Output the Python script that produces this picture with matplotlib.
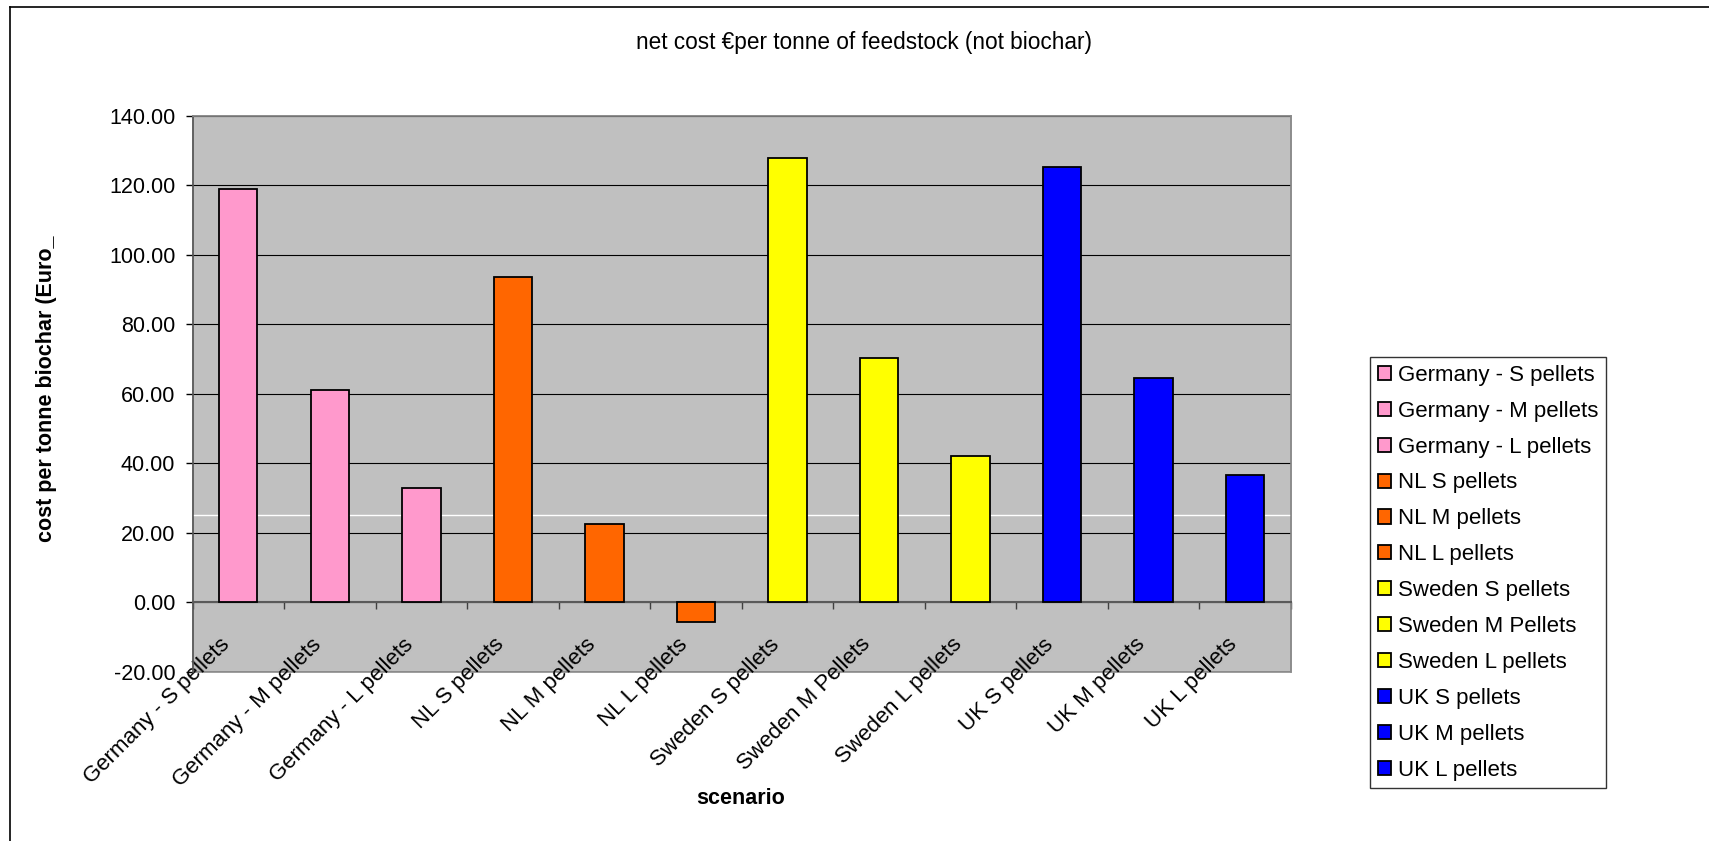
import matplotlib
matplotlib.use("Agg")
import matplotlib.pyplot as plt
import matplotlib.transforms as mtransforms
from matplotlib.lines import Line2D
import numpy as np

plt.rcParams['font.family'] = ['Liberation Sans', 'DejaVu Sans']

# data
scenarios = ["Germany - S pellets", "Germany - M pellets", "Germany - L pellets",
             "NL S pellets", "NL M pellets", "NL L pellets",
             "Sweden S pellets", "Sweden M Pellets", "Sweden L pellets",
             "UK S pellets", "UK M pellets", "UK L pellets"]
net_cost = [119.0, 61.0, 32.9, 93.5, 22.4, -5.6, 128.0, 70.4, 42.1, 125.4, 64.4, 36.5]
bar_colors = ["#FF99CC"] * 3 + ["#FF6600"] * 3 + ["#FFFF00"] * 3 + ["#0000FF"] * 3
white_line_value = 25.0
y_ticks = [-20, 0, 20, 40, 60, 80, 100, 120, 140]

fs = 15.5
W, H = 1709, 841
fig = plt.figure(figsize=(W / 100, H / 100), dpi=100)
ax = fig.add_axes([192.5 / W, 1 - 671.5 / H, (1291 - 192.5) / W, (671.5 - 116) / H])
ax.set_facecolor("#C0C0C0")

x = np.arange(len(scenarios))
for i in range(len(scenarios)):
    ax.bar(x[i], net_cost[i], width=0.42, color=bar_colors[i], edgecolor="black",
           linewidth=1.3, label=scenarios[i], zorder=3)

# odd white line in the plot area
ax.axhline(white_line_value, color="white", linewidth=1.0, zorder=2)

ax.set_xlim(-0.5, len(scenarios) - 0.5)
ax.set_ylim(-20, 140)
ax.set_yticks(y_ticks)
ax.set_yticklabels(["{:.2f}".format(v) for v in y_ticks], fontsize=fs)
ax.yaxis.grid(True, color="black", linewidth=0.8, zorder=1)
ax.set_axisbelow(True)

# x axis sits on zero
for s in ["top", "right"]:
    ax.spines[s].set_color("#8c8c8c")
    ax.spines[s].set_linewidth(1.2)
ax.spines["left"].set_color("#5a5a5a")
ax.spines["left"].set_linewidth(1.2)
ax.spines["bottom"].set_position(("data", 0))
ax.spines["bottom"].set_color("#5a5a5a")
ax.spines["bottom"].set_linewidth(1.5)
ax.patch.set_edgecolor("#8c8c8c")
ax.patch.set_linewidth(1.2)

ax.set_xticks(x)
ax.set_xticks(np.arange(len(scenarios) + 1) - 0.5, minor=True)
ax.tick_params(axis="x", which="major", length=0, pad=23)
ax.tick_params(axis="x", which="minor", length=5, width=1.0, color="#404040", direction="out")
ax.tick_params(axis="y", length=5.4, width=1.0, pad=7)
ax.set_xticklabels(scenarios, fontsize=16, rotation=45, ha="right", rotation_mode="anchor")
offset = mtransforms.ScaledTranslation(-0.19, 0, fig.dpi_scale_trans)
for lab in ax.get_xticklabels():
    lab.set_transform(lab.get_transform() + offset)
    lab.set_va("top")

fig.text(864 / W, 1 - 43 / H, "net cost €per tonne of feedstock (not biochar)",
         fontsize=16.3, ha="center", va="center")
fig.text(47 / W, 1 - 389 / H, "cost per tonne biochar (Euro_", fontsize=fs,
         fontweight="bold", rotation=90, ha="center", va="center")
fig.text(741 / W, 1 - 798 / H, "scenario", fontsize=fs, fontweight="bold",
         ha="center", va="center")

leg = fig.legend(loc="upper left", bbox_to_anchor=(1370 / W, 1 - 357 / H),
                 bbox_transform=fig.transFigure, fontsize=16, frameon=True,
                 fancybox=False, borderaxespad=0, borderpad=0.35,
                 handlelength=0.6, handleheight=0.6, handletextpad=0.3,
                 labelspacing=0.67)
leg.get_frame().set_edgecolor("black")
leg.get_frame().set_linewidth(1.0)

# chart frame (left and top edges visible)
fig.add_artist(Line2D([10 / W, 10 / W], [0, 1 - 7 / H], transform=fig.transFigure,
                      color="black", linewidth=1.2))
fig.add_artist(Line2D([10 / W, 1], [1 - 7 / H, 1 - 7 / H], transform=fig.transFigure,
                      color="black", linewidth=1.2))

fig.savefig("out.png", dpi=100, facecolor="white")
